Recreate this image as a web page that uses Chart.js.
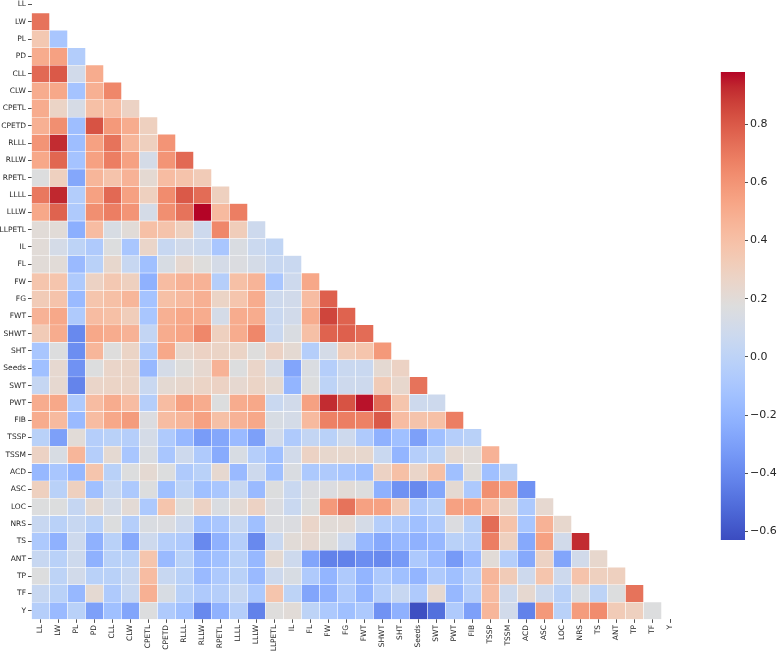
<!DOCTYPE html>
<html>
<head>
<meta charset="utf-8">
<script src="https://cdn.jsdelivr.net/npm/chart.js@4.4.1/dist/chart.umd.min.js"></script>
<style>
  html, body { margin:0; padding:0; background:#ffffff; }
  body { width:778px; height:654px; position:relative; overflow:hidden; }
  #heat { position:absolute; left:0; top:-6px; }
  #cbar { position:absolute; left:700px; top:60px; }
</style>
</head>
<body>
<canvas id="heat" width="778" height="660"></canvas>
<canvas id="cbar" width="78" height="500"></canvas>
<script>
// ---- variable names (row / column categories) ----
const VARS = ['LL','LW','PL','PD','CLL','CLW','CPETL','CPETD','RLLL','RLLW','RPETL','LLLL','LLLW','LLPETL','IL','FL','FW','FG','FWT','SHWT','SHT','Seeds','SWT','PWT','FIB','TSSP','TSSM','ACD','ASC','LOC','NRS','TS','ANT','TP','TF','Y'];

// ---- lower-triangle correlations, one array per row (columns LL ...) ----
const corrLW     = [0.72];
const corrPL     = [0.35, -0.10];
const corrPD     = [0.50, 0.55, -0.05];
const corrCLL    = [0.75, 0.80, 0.10, 0.50];
const corrCLW    = [0.50, 0.52, -0.12, 0.48, 0.65];
const corrCPETL  = [0.50, 0.27, 0.13, 0.40, 0.42, 0.28];
const corrCPETD  = [0.48, 0.62, -0.15, 0.82, 0.58, 0.50, 0.30];
const corrRLLL   = [0.60, 0.92, -0.15, 0.55, 0.72, 0.45, 0.30, 0.60];
const corrRLLW   = [0.52, 0.76, -0.12, 0.55, 0.68, 0.55, 0.12, 0.60, 0.75];
const corrRPETL  = [0.17, 0.30, -0.27, 0.45, 0.38, 0.47, 0.22, 0.42, 0.38, 0.33];
const corrLLLL   = [0.70, 0.93, -0.05, 0.55, 0.75, 0.55, 0.30, 0.63, 0.80, 0.74, 0.30];
const corrLLLW   = [0.52, 0.77, -0.07, 0.62, 0.68, 0.60, 0.12, 0.62, 0.72, 0.98, 0.43, 0.68];
const corrLLPETL = [0.20, 0.20, -0.23, 0.42, 0.14, 0.20, 0.40, 0.38, 0.30, 0.08, 0.65, 0.32, 0.08];
const corrIL     = [0.20, 0.12, 0.00, -0.07, 0.17, -0.10, 0.26, 0.05, 0.10, 0.07, -0.10, 0.15, 0.07, 0.02];
const corrFL     = [0.20, 0.20, -0.17, -0.02, 0.24, 0.05, -0.14, 0.14, 0.23, 0.18, 0.12, 0.16, 0.12, 0.05, 0.06];
const corrFW     = [0.37, 0.37, -0.07, 0.28, 0.35, 0.30, -0.22, 0.42, 0.47, 0.47, -0.04, 0.40, 0.46, -0.10, 0.08, 0.52];
const corrFG     = [0.33, 0.38, -0.17, 0.37, 0.40, 0.45, -0.12, 0.40, 0.43, 0.48, 0.27, 0.37, 0.50, 0.08, 0.10, 0.42, 0.78];
const corrFWT    = [0.47, 0.52, -0.07, 0.42, 0.40, 0.32, -0.10, 0.48, 0.52, 0.50, 0.12, 0.50, 0.50, 0.06, 0.10, 0.50, 0.86, 0.77];
const corrSHWT   = [0.33, 0.50, -0.40, 0.52, 0.50, 0.47, 0.03, 0.50, 0.53, 0.65, 0.30, 0.50, 0.65, 0.06, 0.15, 0.40, 0.77, 0.78, 0.74];
const corrSHT    = [-0.10, 0.17, -0.38, 0.45, 0.18, 0.27, -0.07, 0.52, 0.24, 0.28, 0.27, 0.27, 0.18, 0.28, 0.22, -0.04, 0.12, 0.33, 0.37, 0.58];
const corrSeeds  = [-0.14, 0.23, -0.36, 0.17, 0.26, 0.27, -0.18, 0.12, 0.18, 0.23, 0.47, 0.17, 0.26, 0.12, -0.28, 0.15, -0.04, 0.06, 0.06, 0.22, 0.28];
const corrSWT    = [0.04, 0.23, -0.42, 0.26, 0.27, 0.27, 0.06, 0.22, 0.24, 0.27, 0.28, 0.23, 0.27, 0.22, -0.20, 0.17, 0.00, 0.08, 0.08, 0.33, 0.24, 0.72];
const corrPWT    = [0.50, 0.52, -0.07, 0.42, 0.50, 0.42, -0.04, 0.42, 0.55, 0.50, 0.17, 0.50, 0.52, 0.06, 0.10, 0.55, 0.92, 0.82, 0.96, 0.74, 0.37, 0.08, 0.08];
const corrFIB    = [0.50, 0.43, -0.17, 0.42, 0.52, 0.57, 0.16, 0.42, 0.45, 0.55, 0.40, 0.47, 0.52, 0.14, 0.12, 0.43, 0.67, 0.68, 0.67, 0.80, 0.42, 0.38, 0.40, 0.68];
const corrTSSP   = [-0.02, -0.30, 0.20, -0.04, -0.02, -0.04, 0.12, -0.07, -0.18, -0.32, -0.27, -0.17, -0.30, 0.10, -0.07, 0.03, -0.02, 0.08, -0.07, -0.22, -0.14, -0.30, -0.14, -0.04, -0.02];
const corrTSSM   = [0.28, 0.14, 0.45, -0.04, 0.22, -0.10, 0.15, -0.10, 0.08, -0.07, -0.25, 0.14, -0.04, -0.14, 0.10, 0.28, 0.24, 0.24, 0.24, 0.06, -0.20, -0.04, 0.00, 0.22, 0.20, 0.47];
const corrACD    = [-0.18, -0.10, -0.18, 0.37, -0.02, 0.17, 0.22, 0.17, -0.07, -0.02, 0.23, -0.17, 0.08, -0.14, 0.15, -0.08, -0.07, -0.10, -0.14, 0.28, 0.40, 0.26, 0.40, -0.14, 0.19, -0.14, -0.02];
const corrASC    = [0.30, -0.02, 0.30, -0.14, 0.05, -0.08, 0.17, -0.14, 0.00, -0.14, -0.10, 0.05, -0.17, 0.17, 0.06, 0.16, 0.16, 0.20, 0.17, -0.22, -0.36, -0.40, -0.27, 0.22, -0.08, 0.62, 0.55, -0.36];
const corrLOC    = [0.17, 0.17, 0.04, 0.22, 0.12, 0.21, -0.08, 0.37, 0.18, 0.28, 0.15, 0.21, 0.28, 0.16, 0.06, 0.17, 0.58, 0.72, 0.55, 0.55, 0.33, -0.07, -0.02, 0.55, 0.55, 0.42, 0.24, -0.08, 0.23];
const corrNRS    = [0.05, -0.02, 0.05, -0.02, 0.17, -0.04, 0.15, 0.16, 0.08, -0.14, -0.10, 0.05, -0.14, 0.16, 0.16, 0.26, 0.20, 0.21, 0.12, -0.04, -0.07, -0.14, -0.07, 0.16, -0.02, 0.74, 0.38, -0.10, 0.47, 0.24];
const corrTS     = [-0.08, -0.22, 0.08, -0.22, -0.02, -0.26, 0.08, -0.04, -0.07, -0.40, -0.22, -0.04, -0.40, 0.06, 0.20, 0.23, 0.18, 0.08, -0.18, -0.26, -0.18, -0.22, -0.18, -0.02, -0.04, 0.68, 0.30, -0.26, 0.55, 0.10, 0.92];
const corrANT    = [0.05, -0.02, 0.08, -0.22, -0.02, -0.02, 0.37, -0.17, -0.02, -0.18, -0.14, -0.02, -0.18, 0.22, 0.08, -0.28, -0.43, -0.43, -0.38, -0.40, -0.33, -0.08, -0.17, -0.33, -0.17, 0.20, -0.04, -0.26, 0.28, -0.28, 0.10, 0.24];
const corrTP     = [0.17, 0.00, 0.10, -0.02, -0.02, 0.05, 0.42, 0.05, -0.02, -0.17, -0.08, -0.02, -0.17, 0.08, 0.14, -0.07, -0.20, -0.07, -0.20, -0.08, -0.14, -0.20, -0.07, -0.14, -0.04, 0.45, 0.33, 0.08, 0.37, 0.08, 0.38, 0.30, 0.30];
const corrTF     = [0.05, -0.02, -0.18, 0.22, -0.07, 0.05, 0.48, 0.14, -0.02, -0.07, -0.04, 0.05, -0.08, 0.37, 0.00, -0.28, -0.22, -0.07, -0.20, -0.04, 0.05, -0.07, 0.23, -0.18, -0.04, 0.42, 0.08, 0.23, 0.08, -0.02, 0.15, 0.00, 0.17, 0.72];
const corrY      = [-0.04, -0.17, -0.02, -0.30, -0.14, -0.28, 0.17, -0.07, -0.14, -0.40, -0.22, -0.04, -0.43, 0.18, 0.20, 0.00, -0.08, -0.14, -0.08, -0.36, -0.22, -0.62, -0.50, -0.07, -0.30, 0.45, 0.10, -0.43, 0.58, -0.02, 0.57, 0.63, 0.33, 0.30, 0.17];

// ---- colour-bar ticks ----
const CB_TICKS = [-0.6, -0.4, -0.2, 0.0, 0.2, 0.4, 0.6, 0.8];

// rows LW..Y (row index = position + 1)
const LOWER = [corrLW, corrPL, corrPD, corrCLL, corrCLW, corrCPETL, corrCPETD, corrRLLL, corrRLLW, corrRPETL,
  corrLLLL, corrLLLW, corrLLPETL, corrIL, corrFL, corrFW, corrFG, corrFWT, corrSHWT, corrSHT, corrSeeds, corrSWT,
  corrPWT, corrFIB, corrTSSP, corrTSSM, corrACD, corrASC, corrLOC, corrNRS, corrTS, corrANT, corrTP, corrTF, corrY];

// colour scale limits (data min / max, as in the colour bar)
const VMIN = -0.63, VMAX = 0.98;

// matplotlib "coolwarm"
const CW = [[59,76,192],[68,90,204],[77,104,215],[87,117,225],[98,130,234],[108,142,241],[119,154,247],[130,165,251],
  [141,176,254],[152,185,255],[163,194,255],[174,201,253],[184,208,249],[194,213,244],[204,217,238],[213,219,230],
  [221,221,221],[229,216,209],[236,211,197],[241,204,184],[245,196,172],[247,187,160],[247,177,148],[247,166,135],
  [244,154,123],[241,141,111],[236,127,99],[229,112,89],[222,96,77],[213,80,66],[203,62,56],[192,40,47],[180,4,38]];

function cmapT(t) {
  t = Math.max(0, Math.min(1, t));
  const p = t * (CW.length - 1);
  const i = Math.min(Math.floor(p), CW.length - 2);
  const f = p - i, a = CW[i], b = CW[i + 1];
  return 'rgb(' + Math.round(a[0] + (b[0] - a[0]) * f) + ',' + Math.round(a[1] + (b[1] - a[1]) * f) + ',' + Math.round(a[2] + (b[2] - a[2]) * f) + ')';
}
function cmap(v) { return cmapT((v - VMIN) / (VMAX - VMIN)); }

const TXT = '#262626';
const FONT = 'DejaVu Sans';

const datasets = LOWER.map((vals, k) => {
  const r = k + 1;
  return {
    data: VARS.map((_, c) => c < r ? [r - 0.5, r + 0.5] : null),
    backgroundColor: VARS.map((_, c) => c < r ? cmap(vals[c]) : 'rgba(0,0,0,0)'),
    borderColor: '#ffffff',
    borderWidth: 0.5,
    borderSkipped: false,
    grouped: false,
    barPercentage: 1,
    categoryPercentage: 1
  };
});

new Chart(document.getElementById('heat'), {
  type: 'bar',
  data: { labels: VARS, datasets: datasets },
  options: {
    responsive: false,
    animation: false,
    devicePixelRatio: 1,
    layout: { padding: { left: 0, top: 1.8, right: 98.5, bottom: 0 } },
    plugins: { legend: { display: false }, tooltip: { enabled: false } },
    scales: {
      x: {
        type: 'category',
        offset: true,
        border: { display: false },
        grid: { offset: false, drawOnChartArea: false, drawTicks: true, tickLength: 3.5, color: TXT, lineWidth: 0.8 },
        ticks: { autoSkip: false, minRotation: 90, maxRotation: 90, padding: 2, color: TXT, font: { family: FONT, size: 7.5 } },
        afterFit: s => { s.height = 34.6; s.paddingLeft = 0; s.paddingRight = 0; }
      },
      y: {
        type: 'linear',
        reverse: true,
        min: -0.5,
        max: 35.5,
        border: { display: false },
        afterBuildTicks: s => { s.ticks = VARS.map((_, i) => ({ value: i })); },
        grid: { drawOnChartArea: false, drawTicks: true, tickLength: 3.5, color: TXT, lineWidth: 0.8 },
        ticks: { autoSkip: false, padding: 2, color: TXT, font: { family: FONT, size: 7.5 }, callback: v => VARS[v] },
        afterFit: s => { s.width = 31.5; s.paddingTop = 0; s.paddingBottom = 0; }
      }
    }
  }
});

// ---- colour bar ----
new Chart(document.getElementById('cbar'), {
  type: 'bar',
  data: {
    labels: ['cbar'],
    datasets: [{
      data: [[VMIN, VMAX]],
      borderWidth: 0,
      barPercentage: 1,
      categoryPercentage: 1,
      backgroundColor: ctx => {
        const area = ctx.chart.chartArea;
        if (!area) return '#dddddd';
        const g = ctx.chart.ctx.createLinearGradient(0, area.bottom, 0, area.top);
        for (let i = 0; i < CW.length; i++) {
          const c = CW[i];
          g.addColorStop(i / (CW.length - 1), 'rgb(' + c[0] + ',' + c[1] + ',' + c[2] + ')');
        }
        return g;
      }
    }]
  },
  options: {
    responsive: false,
    animation: false,
    devicePixelRatio: 1,
    layout: { padding: { left: 20.7, right: 0, top: 12, bottom: 20 } },
    plugins: { legend: { display: false }, tooltip: { enabled: false } },
    scales: {
      x: { display: false },
      y: {
        position: 'right',
        min: VMIN,
        max: VMAX,
        border: { display: false },
        afterBuildTicks: s => { s.ticks = CB_TICKS.map(v => ({ value: v })); },
        grid: { drawOnChartArea: false, drawTicks: true, tickLength: 3, color: TXT, lineWidth: 0.8 },
        ticks: {
          padding: 2, color: TXT, font: { family: FONT, size: 11 },
          callback: v => (v < -1e-9 ? '\u2212' : '') + Math.abs(v).toFixed(1)
        },
        afterFit: s => { s.width = 33; s.paddingTop = 0; s.paddingBottom = 0; }
      }
    }
  }
});
</script>
</body>
</html>
